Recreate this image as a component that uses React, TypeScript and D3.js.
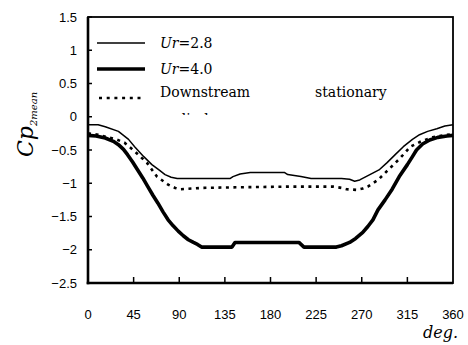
import * as React from "react";
import * as d3 from "d3";

// Ur=2.8 (thin line)
const ur28Deg = [0, 10, 17, 30, 40, 46, 55, 63, 70, 76, 82, 88, 100, 140, 143, 150, 160, 170, 194, 197, 210, 220, 250, 258, 263, 268, 278, 287, 295, 303, 311, 320, 327, 335, 344, 352, 360];
const ur28Val = [-0.12, -0.12, -0.15, -0.22, -0.34, -0.45, -0.6, -0.72, -0.8, -0.87, -0.91, -0.93, -0.93, -0.93, -0.9, -0.86, -0.84, -0.84, -0.84, -0.87, -0.9, -0.93, -0.93, -0.94, -0.97, -0.95, -0.87, -0.8, -0.69, -0.57, -0.45, -0.34, -0.27, -0.22, -0.18, -0.14, -0.12];

// Ur=4.0 (thick line)
const ur40Deg = [0, 8, 17, 25, 30, 35, 39, 44, 49, 54, 59, 64, 69, 74, 79, 84, 89, 94, 99, 104, 108, 112, 142, 145, 208, 213, 245, 250, 258, 264, 271, 276, 281, 286, 293, 300, 307, 315, 320, 324, 330, 337, 345, 354, 360];
const ur40Val = [-0.28, -0.29, -0.32, -0.37, -0.42, -0.49, -0.57, -0.68, -0.8, -0.92, -1.05, -1.18, -1.3, -1.43, -1.55, -1.64, -1.72, -1.79, -1.85, -1.89, -1.92, -1.96, -1.96, -1.89, -1.89, -1.96, -1.96, -1.94, -1.89, -1.83, -1.74, -1.65, -1.55, -1.4, -1.25, -1.09, -0.9, -0.72, -0.6, -0.5, -0.41, -0.35, -0.31, -0.29, -0.28];

// Downstream stationary cylinder (dotted)
const downDeg = [0, 10, 20, 28, 36, 46, 58, 68, 79, 86, 91, 102, 112, 150, 200, 242, 250, 255, 265, 271, 276, 286, 296, 308, 318, 330, 340, 350, 360];
const downVal = [-0.25, -0.27, -0.31, -0.34, -0.39, -0.52, -0.69, -0.9, -1.02, -1.07, -1.09, -1.08, -1.07, -1.06, -1.05, -1.05, -1.07, -1.09, -1.1, -1.08, -1.05, -0.95, -0.8, -0.62, -0.45, -0.36, -0.31, -0.28, -0.26];

const xTicks = [0, 45, 90, 135, 180, 225, 270, 315, 360];
const yTicks = [1.5, 1, 0.5, 0, -0.5, -1, -1.5, -2, -2.5];

const width = 468;
const height = 345;
const left = 88;
const right = 453;
const top = 17;
const bottom = 283;

const sans = "'Liberation Sans', Arial, sans-serif";
const serif = "'DejaVu Serif', serif";

const fmt = (v: number) => (v < 0 ? "\u2212" + String(-v) : String(v));

export default function App() {
  const x = d3.scaleLinear().domain([0, 360]).range([left, right]);
  const y = d3.scaleLinear().domain([-2.5, 1.5]).range([bottom, top]);

  const line = d3
    .line<[number, number]>()
    .x((d) => x(d[0]))
    .y((d) => y(d[1]));

  const zip = (a: number[], b: number[]) => a.map((v, i) => [v, b[i]] as [number, number]);

  return (
    <svg
      width={width}
      height={height}
      viewBox={`0 0 ${width} ${height}`}
      style={{ position: "absolute", left: 0, top: 0, background: "#fff" }}
    >
      <defs>
        <clipPath id="legclip">
          <rect x={90} y={18} width={362} height={97} />
        </clipPath>
      </defs>
      <rect width={width} height={height} fill="#fff" />

      {/* frame */}
      <rect x={left} y={top} width={right - left} height={bottom - top} fill="none" stroke="#000" strokeWidth={1.8} />
      <line x1={left} x2={left} y1={top} y2={bottom + 1.3} stroke="#000" strokeWidth={2.6} />
      <line x1={left - 1.3} x2={right} y1={bottom} y2={bottom} stroke="#000" strokeWidth={2.6} />

      {/* y ticks */}
      {yTicks.map((t) => (
        <g key={t}>
          <line x1={left} x2={left + 4} y1={y(t)} y2={y(t)} stroke="#000" strokeWidth={1.5} />
          <text x={77} y={y(t)} dy="0.36em" textAnchor="end" fontFamily={sans} fontSize={13}>
            {fmt(t)}
          </text>
        </g>
      ))}

      {/* x ticks */}
      {xTicks.map((t) => (
        <g key={t}>
          {t > 0 && t < 360 && (
            <line x1={x(t)} x2={x(t)} y1={bottom} y2={bottom - 6} stroke="#000" strokeWidth={1.5} />
          )}
          <text x={x(t)} y={319} textAnchor="middle" fontFamily={sans} fontSize={13}>
            {t}
          </text>
        </g>
      ))}

      {/* series */}
      <path d={line(zip(ur28Deg, ur28Val)) || ""} fill="none" stroke="#000" strokeWidth={1.5} strokeLinejoin="round" />
      <path d={line(zip(downDeg, downVal)) || ""} fill="none" stroke="#000" strokeWidth={2.6} strokeDasharray="3,4.5" />
      <path d={line(zip(ur40Deg, ur40Val)) || ""} fill="none" stroke="#000" strokeWidth={3.6} strokeLinejoin="round" />

      {/* legend */}
      <g clipPath="url(#legclip)" fontFamily={serif} fontSize={14}>
        <line x1={97} x2={145} y1={43} y2={43} stroke="#000" strokeWidth={1.5} />
        <text x={160} y={48}>
          <tspan fontStyle="italic">Ur</tspan>=2.8
        </text>
        <line x1={97} x2={145} y1={69} y2={69} stroke="#000" strokeWidth={3.6} />
        <text x={160} y={74}>
          <tspan fontStyle="italic">Ur</tspan>=4.0
        </text>
        <line x1={99} x2={145} y1={98} y2={98} stroke="#000" strokeWidth={2.6} strokeDasharray="3,4.7" />
        <text x={160} y={97}>Downstream</text>
        <text x={315} y={97}>stationary</text>
        <text x={166} y={124}>cylinder</text>
      </g>

      {/* axis titles */}
      <text transform="translate(33,157) rotate(-90)" fontFamily={serif} fontStyle="italic">
        <tspan fontSize={22}>Cp</tspan>
        <tspan fontSize={10} dy={4}>2mean</tspan>
      </text>
      <text x={458} y={338} textAnchor="end" fontFamily={serif} fontStyle="italic" fontSize={16}>
        deg.
      </text>
    </svg>
  );
}
